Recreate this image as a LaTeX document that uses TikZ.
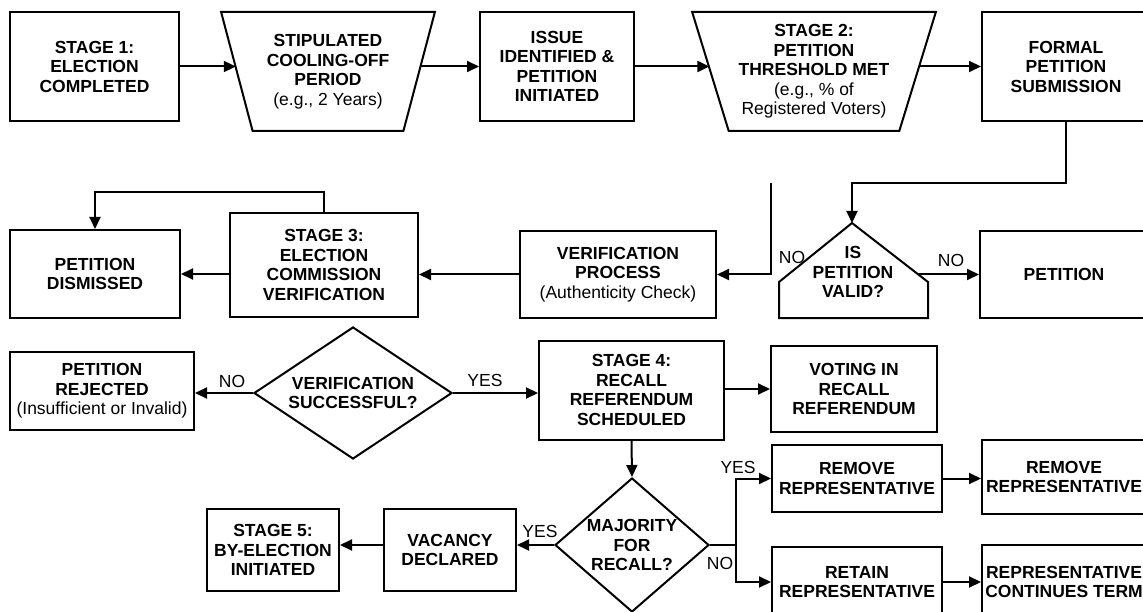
\documentclass[tikz,border=0pt]{standalone}
\usepackage{fontspec}
\setmainfont{Liberation Sans}
\usetikzlibrary{arrows.meta,shapes.geometric}

\newcommand{\flowfont}{\fontsize{17.5}{19.5}\selectfont}

\tikzset{
    box/.style={draw, line width=2pt, align=center, font=\flowfont\bfseries, inner sep=0pt},
    trap/.style={box, trapezium, trapezium left angle=71, trapezium right angle=71,
        shape border rotate=180, trapezium stretches=true},
    decision/.style={box, diamond},
    lbl/.style={font=\flowfont, inner sep=0pt},
    line/.style={line width=2pt},
    arr/.style={line width=2pt, -{Triangle[length=12pt,width=11pt]}}
}

\begin{document}
\begin{tikzpicture}[x=1pt, y=-1pt]
    \useasboundingbox (0,0) rectangle (1143,612);
    \clip (0,0) rectangle (1143,612);
    \fill[white] (0,0) rectangle (1143,612);

    % row 1
    \node[box, minimum width=169pt, minimum height=109pt] (s1) at (94.5,66.5) {STAGE 1:\\ELECTION\\COMPLETED};
    \node[trap, minimum width=214pt, minimum height=119pt] (cool) at (328,71.5) {STIPULATED\\COOLING-OFF\\PERIOD\\\textmd{(e.g., 2 Years)}};
    \node[box, minimum width=154pt, minimum height=109pt] (issue) at (557,66.5) {ISSUE\\IDENTIFIED \&\\PETITION\\INITIATED};
    \node[trap, minimum width=244pt, minimum height=119pt] (thresh) at (814,71.5) {STAGE 2:\\PETITION\\THRESHOLD MET\\\textmd{(e.g., \% of}\\\textmd{Registered Voters)}};
    \node[box, minimum width=168pt, minimum height=109pt] (formal) at (1066,66.5) {FORMAL\\PETITION\\SUBMISSION};

    \draw[arr] (s1.east) -- (s1.east -| cool.west);
    \draw[arr] (cool.east |- s1.east) -- (issue.west);
    \draw[arr] (issue.east) -- (issue.east -| thresh.west);
    \draw[arr] (thresh.east |- formal.west) -- (formal.west);

    % row 2
    \node[box, minimum width=170pt, minimum height=88pt] (dism) at (95,274) {PETITION\\DISMISSED};
    \node[box, minimum width=188pt, minimum height=104pt] (s3) at (324,265) {STAGE 3:\\ELECTION\\COMMISSION\\VERIFICATION};
    \node[box, minimum width=196pt, minimum height=87pt] (verif) at (618,274.5) {VERIFICATION\\PROCESS\\\textmd{(Authenticity Check)}};
    \node[box, minimum width=168pt, minimum height=87pt] (pet) at (1064,274.5) {PETITION};

    \coordinate (vtop) at (852,223);
    \coordinate (vright) at (918,274.5);
    \draw[line] (779,318) -- (779,282) -- (vtop) -- (928,282) -- (928,318) -- cycle;
    \node[box, draw=none] (valid) at (853,272) {IS\\PETITION\\VALID?};

    \coordinate (feed) at (771,183);
    \draw[arr] (formal.south) -- ++(0,61) -| (vtop);
    \draw[arr] (feed) |- (verif.east);
    \draw[arr] (vright) -- (pet.west);
    \draw[arr] (verif.west) -- (verif.west -| s3.east);
    \draw[arr] (s3.west |- dism.east) -- (dism.east);
    \draw[arr] (s3.north) -- ++(0,-20) -| (dism.north);
    \node[lbl] (no2) at (792,257) {NO};
    \node[lbl] (no3) at (951,260) {NO};

    % row 3
    \node[box, minimum width=184pt, minimum height=78pt] (rej) at (102,391) {PETITION\\REJECTED\\\textmd{(Insufficient or Invalid)}};
    \node[decision, aspect=1.5, minimum width=198pt, minimum height=132pt] (vs) at (353,393) {VERIFICATION\\SUCCESSFUL?};
    \node[box, minimum width=185pt, minimum height=99pt] (s4) at (631.5,390) {STAGE 4:\\RECALL\\REFERENDUM\\SCHEDULED};
    \node[box, minimum width=166pt, minimum height=86pt] (vote) at (854,389) {VOTING IN\\RECALL\\REFERENDUM};

    \draw[arr] (vs.west) -- (rej.east |- vs.west);
    \draw[arr] (vs.east) -- (s4.west |- vs.east);
    \draw[arr] (s4.east |- vote.west) -- (vote.west);
    \node[lbl] (no1) at (232,381) {NO};
    \node[lbl] (yes1) at (485,380) {YES};

    % row 4
    \node[decision, aspect=1.15, minimum width=154pt, minimum height=134pt] (maj) at (632,545) {MAJORITY\\FOR\\RECALL?};
    \node[box, minimum width=132pt, minimum height=82pt] (vac) at (450,550) {VACANCY\\DECLARED};
    \node[box, minimum width=132pt, minimum height=82pt] (s5) at (273,550) {STAGE 5:\\BY-ELECTION\\INITIATED};
    \node[box, minimum width=170pt, minimum height=67pt] (rem) at (857,478.5) {REMOVE\\REPRESENTATIVE};
    \node[box, minimum width=170pt, minimum height=70pt] (ret) at (857,582) {RETAIN\\REPRESENTATIVE};
    \node[box, minimum width=164pt, minimum height=74pt] (remr) at (1064,477) {REMOVE\\REPRESENTATIVE};
    \node[box, minimum width=164pt, minimum height=74pt] (cont) at (1064,582) {REPRESENTATIVE\\CONTINUES TERM};

    \draw[arr] (s4.south) -- (maj.north);
    \draw[arr] (maj.west) -- (maj.west -| vac.east);
    \draw[arr] (vac.west |- maj.west) -- (s5.east |- maj.west);
    \coordinate (split) at (736,545);
    \draw[line] (maj.east) -- (split);
    \draw[arr] (split) |- (rem.west);
    \draw[arr] (split) |- (ret.west);
    \draw[arr] (rem.east) -- (rem.east -| remr.west);
    \draw[arr] (ret.east) -- (ret.east -| cont.west);
    \node[lbl] (yes2) at (540,531) {YES};
    \node[lbl] (yes3) at (738,467) {YES};
    \node[lbl] (no4) at (720,563) {NO};
\end{tikzpicture}
\end{document}
